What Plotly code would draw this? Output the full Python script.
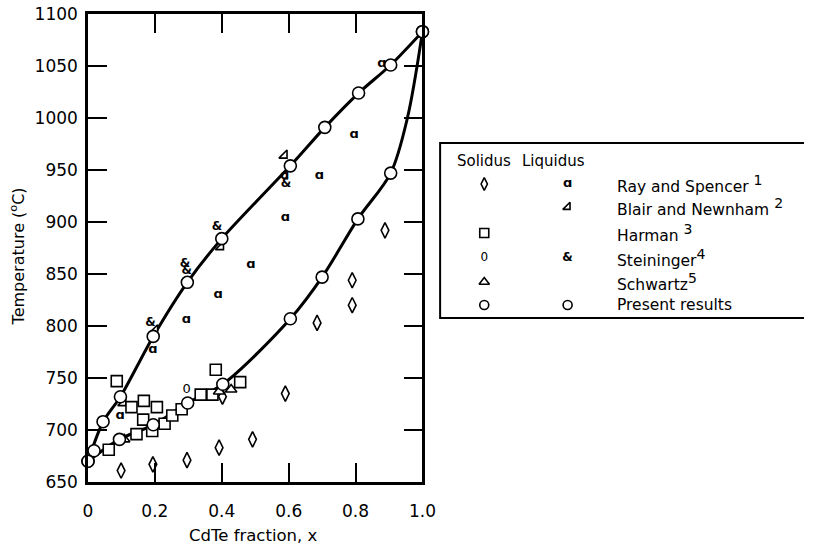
import plotly.graph_objects as go

# ---------------- data (CdTe fraction x, temperature in deg C) ----------------
# Present results
present_liq_x = [0.0, 0.045, 0.097, 0.195, 0.297, 0.400, 0.605, 0.708, 0.809, 0.905, 1.0]
present_liq_T = [670, 708, 732, 790, 842, 884, 954, 991, 1024, 1051, 1083]
present_sol_x = [0.0, 0.094, 0.195, 0.298, 0.403, 0.605, 0.700, 0.807, 0.905, 1.0]
present_sol_T = [670, 691, 705, 726, 744, 807, 847, 903, 947, 1083]
present_other_x = [0.018]
present_other_T = [680]

# drawn curves
liq_curve_x = [0.0, 0.045, 0.097, 0.195, 0.297, 0.400, 0.605, 0.708, 0.809, 0.905, 1.0]
liq_curve_T = [670, 708, 732, 790, 842, 884, 954, 991, 1024, 1051, 1083]
sol_curve_x = [0.0, 0.094, 0.195, 0.298, 0.403, 0.605, 0.700, 0.807, 0.905, 0.955, 1.0]
sol_curve_T = [670, 691, 705, 726, 744, 807, 847, 903, 947, 1000, 1083]

# Ray and Spencer
ray_sol_x = [0.099, 0.194, 0.296, 0.392, 0.402, 0.492, 0.590, 0.685, 0.790, 0.790, 0.888]
ray_sol_T = [661, 667, 671, 683, 732, 691, 735, 803, 820, 844, 892]
ray_liq_x = [0.096, 0.194, 0.294, 0.389, 0.487, 0.590, 0.588, 0.692, 0.796, 0.879]
ray_liq_T = [714, 777, 806, 830, 859, 904, 944, 944, 984, 1052]

# Blair and Newnham (liquidus)
blair_liq_x = [0.105, 0.200, 0.397, 0.587]
blair_liq_T = [726, 796, 876, 964]

# Harman (solidus)
harman_sol_x = [0.062, 0.086, 0.130, 0.145, 0.165, 0.167, 0.192, 0.206, 0.229, 0.252, 0.280, 0.337, 0.372, 0.382, 0.455]
harman_sol_T = [681, 747, 722, 696, 710, 728, 699, 722, 706, 714, 720, 734, 734, 758, 746]

# Steininger
stein_sol_x = [0.295]
stein_sol_T = [739]
stein_liq_x = [0.187, 0.290, 0.295, 0.386, 0.592]
stein_liq_T = [803, 860, 853, 895, 937]

# Schwartz (solidus)
schw_sol_x = [0.108, 0.392, 0.428]
schw_sol_T = [691, 737, 739]

# axis ticks
x_ticks = [0, 0.2, 0.4, 0.6, 0.8, 1.0]
x_ticktext = ["0", "0.2", "0.4", "0.6", "0.8", "1.0"]
y_ticks = [650, 700, 750, 800, 850, 900, 950, 1000, 1050, 1100]

# legend rows
legend_names = ["Ray and Spencer ", "Blair and Newnham ", "Harman ", "Steininger",
                "Schwartz", "Present results"]
legend_refs = ["1", "2", "3", "4", "5", ""]

# ---------------- figure ----------------
FONT = "DejaVu Sans"
W, H = 818, 547
L, T_, B = 88, 14, 65
PW = W - L
PH = H - T_ - B

fig = go.Figure()

# curves
fig.add_trace(go.Scatter(x=liq_curve_x, y=liq_curve_T, mode="lines",
                         line=dict(color="black", width=3, shape="spline", smoothing=0.8),
                         hoverinfo="skip", showlegend=False))
fig.add_trace(go.Scatter(x=sol_curve_x, y=sol_curve_T, mode="lines",
                         line=dict(color="black", width=3, shape="spline", smoothing=0.9),
                         hoverinfo="skip", showlegend=False))

def mk(x, y, symbol, size, xa="x", ya="y"):
    fig.add_trace(go.Scatter(x=x, y=y, mode="markers", cliponaxis=False, showlegend=False,
                             xaxis=xa, yaxis=ya, hoverinfo="skip",
                             marker=dict(symbol=symbol, size=size, color="white",
                                         line=dict(color="black", width=1.6))))

def txt(x, y, glyph, size, xa="x", ya="y"):
    fig.add_trace(go.Scatter(x=x, y=y, mode="text", cliponaxis=False, showlegend=False,
                             xaxis=xa, yaxis=ya, hoverinfo="skip",
                             text=[glyph] * len(x), textposition="middle center",
                             textfont=dict(family=FONT, size=size, color="#000000")))

mk(ray_sol_x, ray_sol_T, "diamond-tall", 11)
txt(ray_liq_x, ray_liq_T, "<b>ɑ</b>", 13)
mk(blair_liq_x, blair_liq_T, "triangle-se", 9)
mk(harman_sol_x, harman_sol_T, "square", 11)
txt(stein_sol_x, stein_sol_T, "0", 13)
txt(stein_liq_x, stein_liq_T, "<b>&</b>", 12)
mk(schw_sol_x, schw_sol_T, "triangle-up", 10)
mk(present_other_x, present_other_T, "circle", 12)
mk(present_liq_x, present_liq_T, "circle", 12)
mk(present_sol_x, present_sol_T, "circle", 12)

# ---------------- legend (overlay pixel-space axes) ----------------
rows_y = [184, 207, 233, 258, 282, 305]
col_sol, col_liq, col_txt = 492, 577, 625

mk([col_sol], [rows_y[0]], "diamond-tall", 9, "x2", "y2")
mk([col_sol], [rows_y[2]], "square", 9, "x2", "y2")
txt([col_sol], [rows_y[3]], "0", 12, "x2", "y2")
mk([col_sol], [rows_y[4]], "triangle-up", 9, "x2", "y2")
mk([col_sol], [rows_y[5]], "circle", 9, "x2", "y2")
txt([col_liq], [rows_y[0]], "<b>ɑ</b>", 13, "x2", "y2")
mk([col_liq], [rows_y[1]], "triangle-se", 8, "x2", "y2")
txt([col_liq], [rows_y[3]], "<b>&</b>", 12, "x2", "y2")
mk([col_liq], [rows_y[5]], "circle", 9, "x2", "y2")

annotations = []
for r, (name, ref) in enumerate(zip(legend_names, legend_refs)):
    lab = name + (f"<sup><span style='font-size:14px'>{ref}</span></sup>" if ref else "")
    annotations.append(dict(x=col_txt, y=rows_y[r], xref="x2", yref="y2", text=lab,
                            showarrow=False, xanchor="left", yanchor="middle",
                            font=dict(family=FONT, size=15.5, color="black")))
annotations.append(dict(x=462, y=161, xref="x2", yref="y2", text="Solidus", showarrow=False,
                        xanchor="left", yanchor="middle", font=dict(family=FONT, size=15, color="black")))
annotations.append(dict(x=528, y=161, xref="x2", yref="y2", text="Liquidus", showarrow=False,
                        xanchor="left", yanchor="middle", font=dict(family=FONT, size=15, color="black")))

# axis titles
annotations.append(dict(x=(16 - L) / PW, y=1 - (256 - T_) / PH, xref="paper", yref="paper",
                        text="Temperature (<sup>o</sup>C)", textangle=-90, showarrow=False,
                        xanchor="center", yanchor="middle",
                        font=dict(family=FONT, size=16, color="black")))
annotations.append(dict(x=(257 - L) / PW, y=1 - (535 - T_) / PH, xref="paper", yref="paper",
                        text="CdTe fraction, x", showarrow=False, xanchor="center", yanchor="middle",
                        font=dict(family=FONT, size=16.5, color="black")))

xdom = (429 - L) / PW
axis_common = dict(showgrid=False, zeroline=False, showline=True, linecolor="black", linewidth=2.5,
                   ticks="inside", ticklen=19, tickwidth=2, tickcolor="black", mirror="ticks",
                   tickfont=dict(family=FONT, size=17, color="black"))

fig.update_layout(
    width=W, height=H,
    margin=dict(l=L, r=0, t=T_, b=B),
    paper_bgcolor="white", plot_bgcolor="white",
    xaxis=dict(domain=[0, xdom], range=[0, 1.0], tickvals=x_ticks, ticktext=x_ticktext,
               ticklabelstandoff=12, **axis_common),
    yaxis=dict(domain=[0, 1], range=[650, 1100], tickvals=y_ticks, ticklabelstandoff=4,
               **axis_common),
    xaxis2=dict(domain=[(440 - L) / PW, 1], range=[440, 818], visible=False, anchor="y2"),
    yaxis2=dict(domain=[0, 1], range=[482, 14], visible=False, anchor="x2"),
    shapes=[dict(type="rect", xref="x2", yref="y2", x0=447, x1=830, y0=143, y1=318,
                 line=dict(color="black", width=2), fillcolor="rgba(0,0,0,0)", layer="below")],
    annotations=annotations,
    showlegend=False,
)

fig.write_html("out.html")
